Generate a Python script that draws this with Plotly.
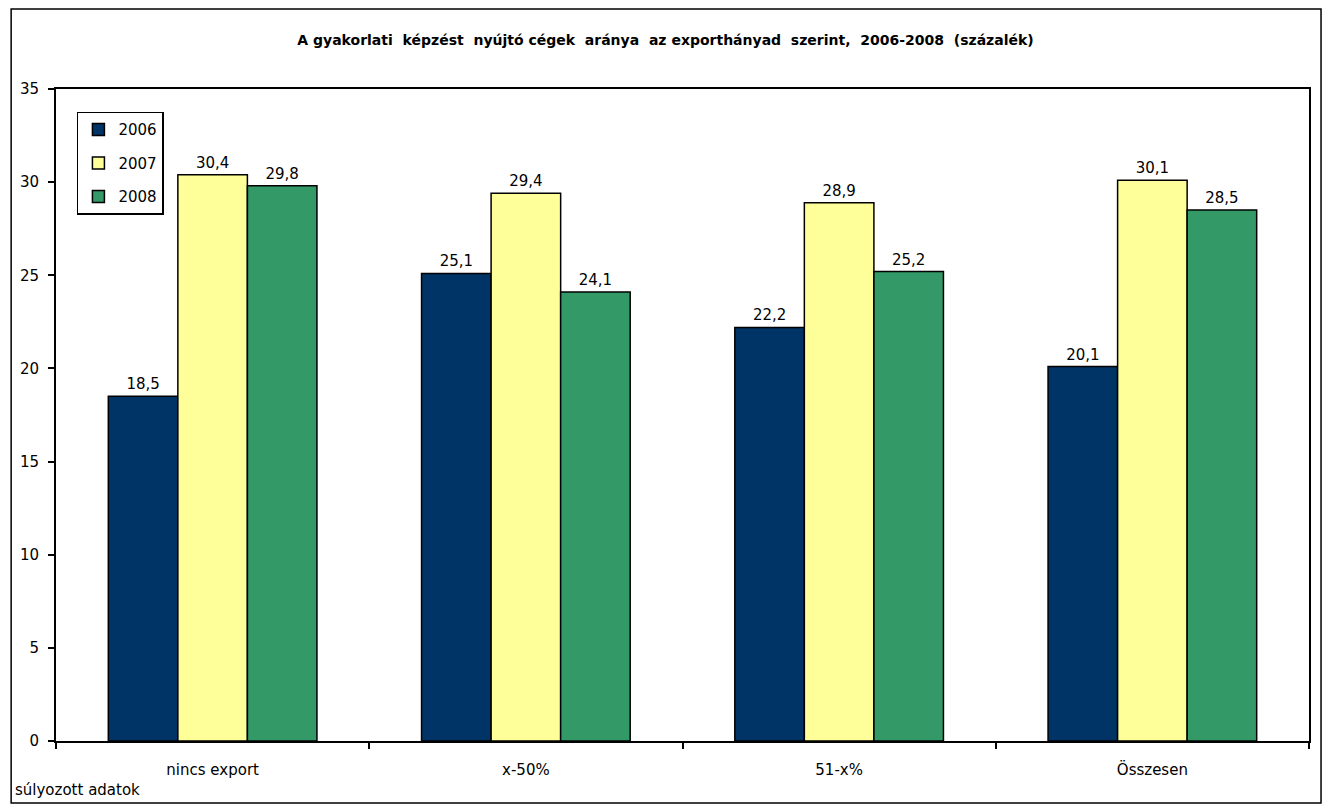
import plotly.graph_objects as go

categories = ["nincs export", "x-50%", "51-x%", "Összesen"]
years = ["2006", "2007", "2008"]
values_2006 = [18.5, 25.1, 22.2, 20.1]
values_2007 = [30.4, 29.4, 28.9, 30.1]
values_2008 = [29.8, 24.1, 25.2, 28.5]

colors = ["#003366", "#FFFF99", "#339966"]
series = [values_2006, values_2007, values_2008]

FONT = "DejaVu Sans, Arial, sans-serif"

fig = go.Figure()
for year, vals, col in zip(years, series, colors):
    fig.add_trace(go.Bar(
        name=year, x=categories, y=vals,
        legendgroup=year,
        marker=dict(color=col, line=dict(color="black", width=1.5)),
        text=[f"{v:.1f}".replace(".", ",") for v in vals],
        textposition="outside",
        textfont=dict(size=15, color="black", family=FONT),
        cliponaxis=False,
    ))

# page body adds an 8px margin, so the figure is 16px smaller than the window
fig.update_layout(
    width=1315, height=796,
    margin=dict(l=46, r=13, t=81, b=63),
    paper_bgcolor="white", plot_bgcolor="white",
    font=dict(family=FONT, size=15, color="black"),
    barmode="group", bargap=0.334, bargroupgap=0,
    title=dict(
        text="<b>A gyakorlati  képzést  nyújtó cégek  aránya  az exporthányad  szerint,  2006-2008  (százalék)</b>",
        x=0.5, xanchor="center", y=0.9598, yanchor="middle",
        font=dict(size=14, family=FONT, color="black"),
    ),
    legend=dict(
        x=0.0167, y=0.965, xanchor="left", yanchor="top",
        bordercolor="black", borderwidth=1.5, bgcolor="white",
        font=dict(size=15, family=FONT), traceorder="grouped",
        tracegroupgap=11,
    ),
    showlegend=True,
)

fig.update_yaxes(
    range=[0, 35], dtick=5, showgrid=False, zeroline=False,
    showline=True, linecolor="black", linewidth=2, mirror=True,
    ticks="outside", ticklen=6, tickwidth=1.5, tickcolor="black",
    ticklabelstandoff=6,
)
fig.update_xaxes(
    showgrid=False, showline=True, linecolor="black", linewidth=2, mirror=True,
    ticks="outside", ticklen=6, tickwidth=1.5, tickcolor="black",
    tickson="boundaries", ticklabelstandoff=14,
)

fig.add_shape(
    type="rect", xref="paper", yref="paper",
    x0=-0.0358, x1=1.0096, y0=-0.0951, y1=1.1227,
    line=dict(color="black", width=1.5), fillcolor="rgba(0,0,0,0)",
)

fig.add_annotation(
    text="súlyozott adatok", xref="paper", yref="paper",
    x=-0.0342, y=-0.0752, xanchor="left", yanchor="middle",
    showarrow=False, font=dict(size=15, family=FONT, color="black"),
)

fig.write_html("out.html")
